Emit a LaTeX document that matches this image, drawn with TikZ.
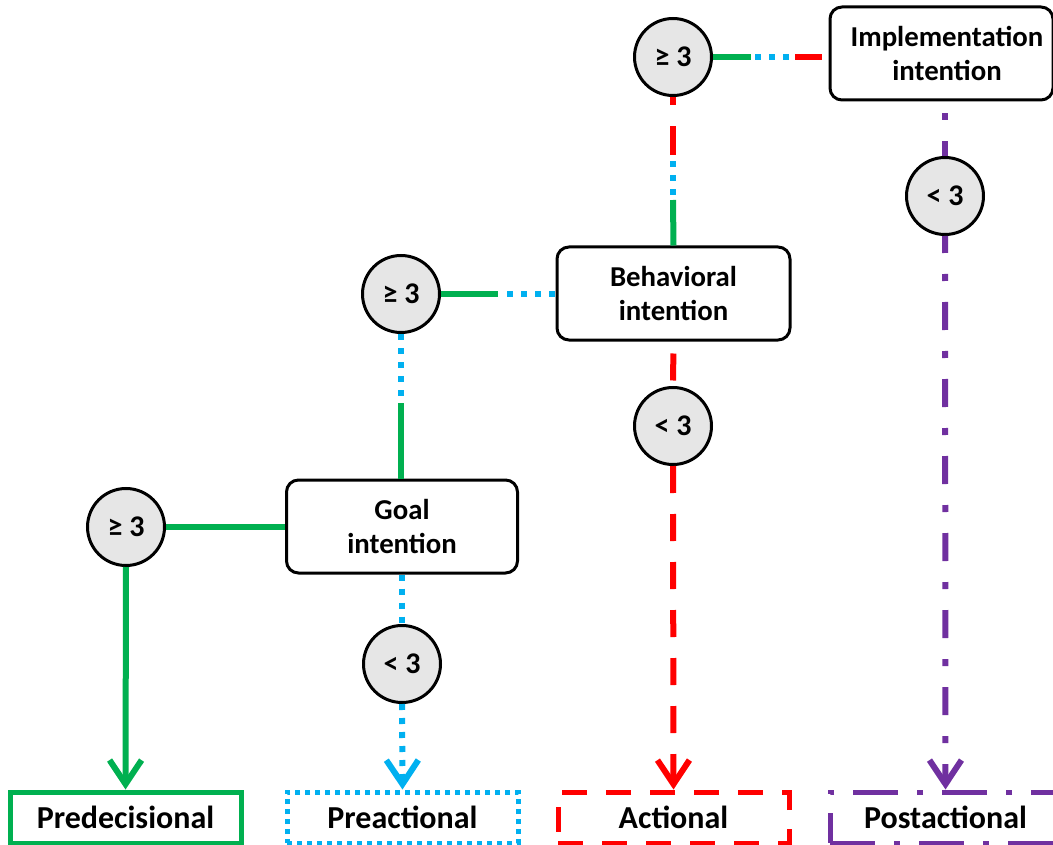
\documentclass[tikz,border=0pt]{standalone}
\usepackage{fontspec}
\setmainfont{Carlito}
\usetikzlibrary{arrows.meta}
\definecolor{cgreen}{HTML}{00B050}
\definecolor{cblue}{HTML}{00B0F0}
\definecolor{cred}{HTML}{FF0000}
\definecolor{cpurple}{HTML}{7030A0}
\definecolor{cgray}{HTML}{E6E6E6}
\begin{document}
\begin{tikzpicture}[x=1pt,y=-1pt,
 circ/.style={circle, draw=black, line width=3pt, fill=cgray, minimum size=77pt, inner sep=0pt, font=\fontsize{30}{34}\selectfont\bfseries},
 ibox/.style={draw=black, line width=3pt, rounded corners=12pt, fill=white, minimum height=93pt, align=center, inner sep=0pt, font=\fontsize{28.8}{34}\selectfont\bfseries},
 stage/.style={line width=5pt, minimum width=231pt, minimum height=51pt, inner sep=0pt, font=\fontsize{32}{36}\selectfont\bfseries},
 link/.style={line width=6pt},
 gline/.style={link, draw=cgreen},
 bline/.style={link, draw=cblue, dash pattern=on 6pt off 8pt},
 rline/.style={link, draw=cred, dash pattern=on 27pt off 21pt},
 pline/.style={link, draw=cpurple, dash pattern=on 28pt off 21pt on 7pt off 21pt},
 tip/.style={-{Straight Barb[length=24pt,width=32pt]}},
]
\useasboundingbox (0,0) rectangle (1053,845);

% nodes
\node[circ] (c1) at (673,57) {≥ 3};
\node[ibox, minimum width=223pt] (impl) at (941.5,53.5) {\hspace*{11pt}Implementation\\\hspace*{11pt}intention};
\node[circ] (c2) at (945,196) {< 3};
\node[ibox, minimum width=233pt] (beh) at (673.5,293.5) {Behavioral\\intention};
\node[circ] (c3) at (401,294) {≥ 3};
\node[circ] (c4) at (673,426) {< 3};
\node[ibox, minimum width=231pt] (goal) at (402,526.5) {Goal\\intention};
\node[circ] (c5) at (402,664) {< 3};
\node[circ] (c6) at (126,527) {≥ 3};

\node[stage, draw=cgreen] (pre) at (125.5,817.5) {Predecisional};
\node[stage, draw=cblue, dash pattern=on 5pt off 5pt] (prea) at (402.5,817.5) {Preactional};
\node[stage, draw=cred, dash pattern=on 25pt off 19pt] (act) at (673.5,817.5) {Actional};
\node[stage, draw=cpurple, dash pattern=on 45pt off 19pt on 6pt off 19pt] (post) at (945.5,817.5) {Postactional};

% helper coordinates on mixed connectors
\coordinate (m1) at (401,403);
\coordinate (m2a) at (498,294);
\coordinate (m2b) at (507,294);
\coordinate (m3a) at (673,200);
\coordinate (m3b) at (673,195);
\coordinate (m3c) at (673,155);
\coordinate (m5a) at (751,57);
\coordinate (m5b) at (755,57);
\coordinate (m5d) at (795,57);

% connectors
\draw[gline] (c6.east) -- (c6.east -| goal.west);
\draw[gline, tip] (c6.south) -- (pre.north);
\draw[bline] (goal.south) -- (c5.north);
\draw[bline, tip] (c5.south) -- (prea.north);

\draw[bline] (c3.south) -- (m1);
\draw[gline] (m1) -- (m1 |- goal.north);
\draw[gline] (c3.east) -- (m2a);
\draw[bline] (m2b) -- (m2b -| beh.west);

\draw[rline, dash phase=36pt] (beh.south) -- (c4.north);
\draw[rline, tip] (c4.south) -- (act.north);

\draw[gline] (beh.north) -- (m3a);
\draw[bline] (m3b) -- (m3c);
\draw[rline, dash pattern=on 29pt off 21pt] (m3c) -- (c1.south);

\draw[gline] (c1.east) -- (m5a);
\draw[bline] (m5b) -- (m5d);
\draw[rline] (m5d) -- (m5d -| impl.west);

\draw[pline, dash phase=37pt] (c2.north |- impl.south) -- (c2.north);
\draw[pline, tip, dash phase=11pt] (c2.south) -- (post.north);
\end{tikzpicture}
\end{document}
